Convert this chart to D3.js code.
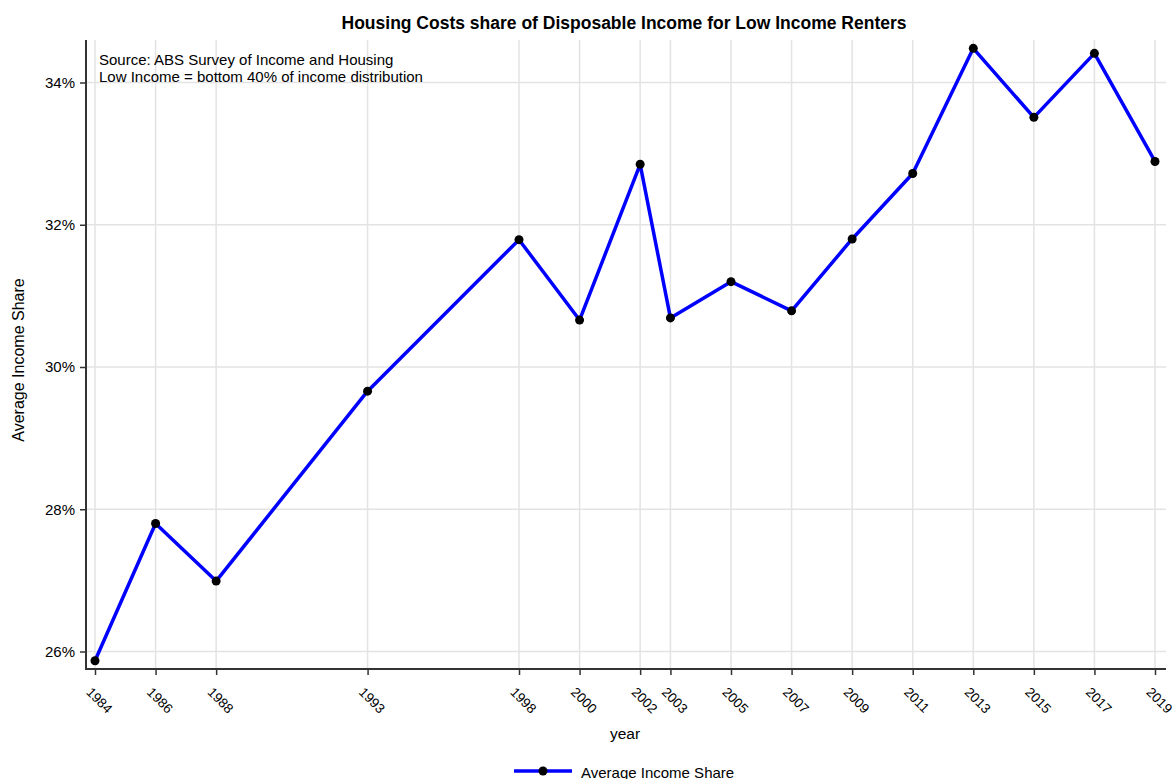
<!DOCTYPE html>
<html>
<head>
<meta charset="utf-8">
<script src="https://cdn.jsdelivr.net/npm/d3@7"></script>
<style>
  body { margin: 0; background: #fff; }
  svg { display: block; font-family: "Liberation Sans", Arial, sans-serif; }
</style>
</head>
<body>
<svg id="chart" width="1176" height="779"></svg>
<script>
const years = [1984, 1986, 1988, 1993, 1998, 2000, 2002, 2003, 2005, 2007, 2009, 2011, 2013, 2015, 2017, 2019];
const shareValues = [25.87, 27.80, 26.99, 29.66, 31.79, 30.66, 32.85, 30.69, 31.20, 30.79, 31.80, 32.72, 34.48, 33.51, 34.41, 32.89];
const yTicks = [26, 28, 30, 32, 34];
const titleText = "Housing Costs share of Disposable Income for Low Income Renters";
const noteLines = ["Source: ABS Survey of Income and Housing", "Low Income = bottom 40% of income distribution"];
const seriesName = "Average Income Share";
const xTitle = "year";

(function () {
const svg = d3.select("#chart");
const pL = 86, pR = 1166, pT = 40, pB = 669;

const x = d3.scaleLinear().domain([1984, 2019]).range([95, 1155]);
const y = d3.scaleLinear().domain([26, 34]).range([651.5, 82.5]);

// grid
svg.append("g").selectAll("line").data(years).join("line")
  .attr("x1", d => x(d)).attr("x2", d => x(d)).attr("y1", pT).attr("y2", pB)
  .attr("stroke", "#e3e3e3").attr("stroke-width", 1.5);
svg.append("g").selectAll("line").data(yTicks).join("line")
  .attr("x1", pL).attr("x2", pR).attr("y1", d => y(d)).attr("y2", d => y(d))
  .attr("stroke", "#e3e3e3").attr("stroke-width", 1.5);

// axes
const yAxis = svg.append("g").attr("transform", `translate(${pL},0)`)
  .call(d3.axisLeft(y).tickValues(yTicks).tickFormat(d => d + "%").tickSize(6).tickPadding(5));
yAxis.select(".domain").remove();
yAxis.selectAll(".tick line").attr("stroke", "#333").attr("stroke-width", 1.5);
yAxis.selectAll("text").attr("font-size", 15).attr("fill", "#000");
svg.append("line").attr("x1", pL).attr("x2", pL).attr("y1", pT).attr("y2", pB + 1)
  .attr("stroke", "#333").attr("stroke-width", 2);

const xAxis = svg.append("g").attr("transform", `translate(0,${pB})`)
  .call(d3.axisBottom(x).tickValues(years).tickFormat(d => String(d)).tickSize(6));
xAxis.select(".domain").remove();
xAxis.selectAll(".tick line").attr("stroke", "#333").attr("stroke-width", 1.5);
xAxis.selectAll("text")
  .attr("font-size", 13.5).attr("fill", "#000")
  .attr("text-anchor", "start")
  .attr("x", 0).attr("y", 0).attr("dy", "0")
  .attr("transform", "translate(-10,24) rotate(45)");
svg.append("line").attr("x1", pL - 1).attr("x2", pR).attr("y1", pB).attr("y2", pB)
  .attr("stroke", "#333").attr("stroke-width", 2);

// line
const line = d3.line().x((d, i) => x(years[i])).y(d => y(d));
svg.append("path").datum(shareValues)
  .attr("d", line).attr("fill", "none").attr("stroke", "#0000ff").attr("stroke-width", 3.5)
  .attr("stroke-linejoin", "round");
svg.append("g").selectAll("circle").data(shareValues).join("circle")
  .attr("cx", (d, i) => x(years[i])).attr("cy", d => y(d)).attr("r", 4.5).attr("fill", "#000");

// title
svg.append("text").attr("x", 624).attr("y", 29).attr("text-anchor", "middle")
  .attr("font-size", 17.5).attr("font-weight", "bold").text(titleText);

// notes
svg.append("g").selectAll("text").data(noteLines).join("text")
  .attr("x", 99).attr("y", (d, i) => 64.5 + i * 17.5).attr("font-size", 15).text(d => d);

// axis titles
svg.append("text").attr("x", 625).attr("y", 739).attr("text-anchor", "middle")
  .attr("font-size", 15.5).text(xTitle);
svg.append("text").attr("transform", "translate(23.5,360) rotate(-90)").attr("text-anchor", "middle")
  .attr("font-size", 16).text(seriesName);

// legend
const lg = svg.append("g");
lg.append("line").attr("x1", 514).attr("x2", 572).attr("y1", 771).attr("y2", 771)
  .attr("stroke", "#0000ff").attr("stroke-width", 3.5);
lg.append("circle").attr("cx", 543).attr("cy", 771).attr("r", 4.5).attr("fill", "#000");
lg.append("text").attr("x", 581).attr("y", 777.5).attr("font-size", 15).text(seriesName);
})();
</script>
</body>
</html>
